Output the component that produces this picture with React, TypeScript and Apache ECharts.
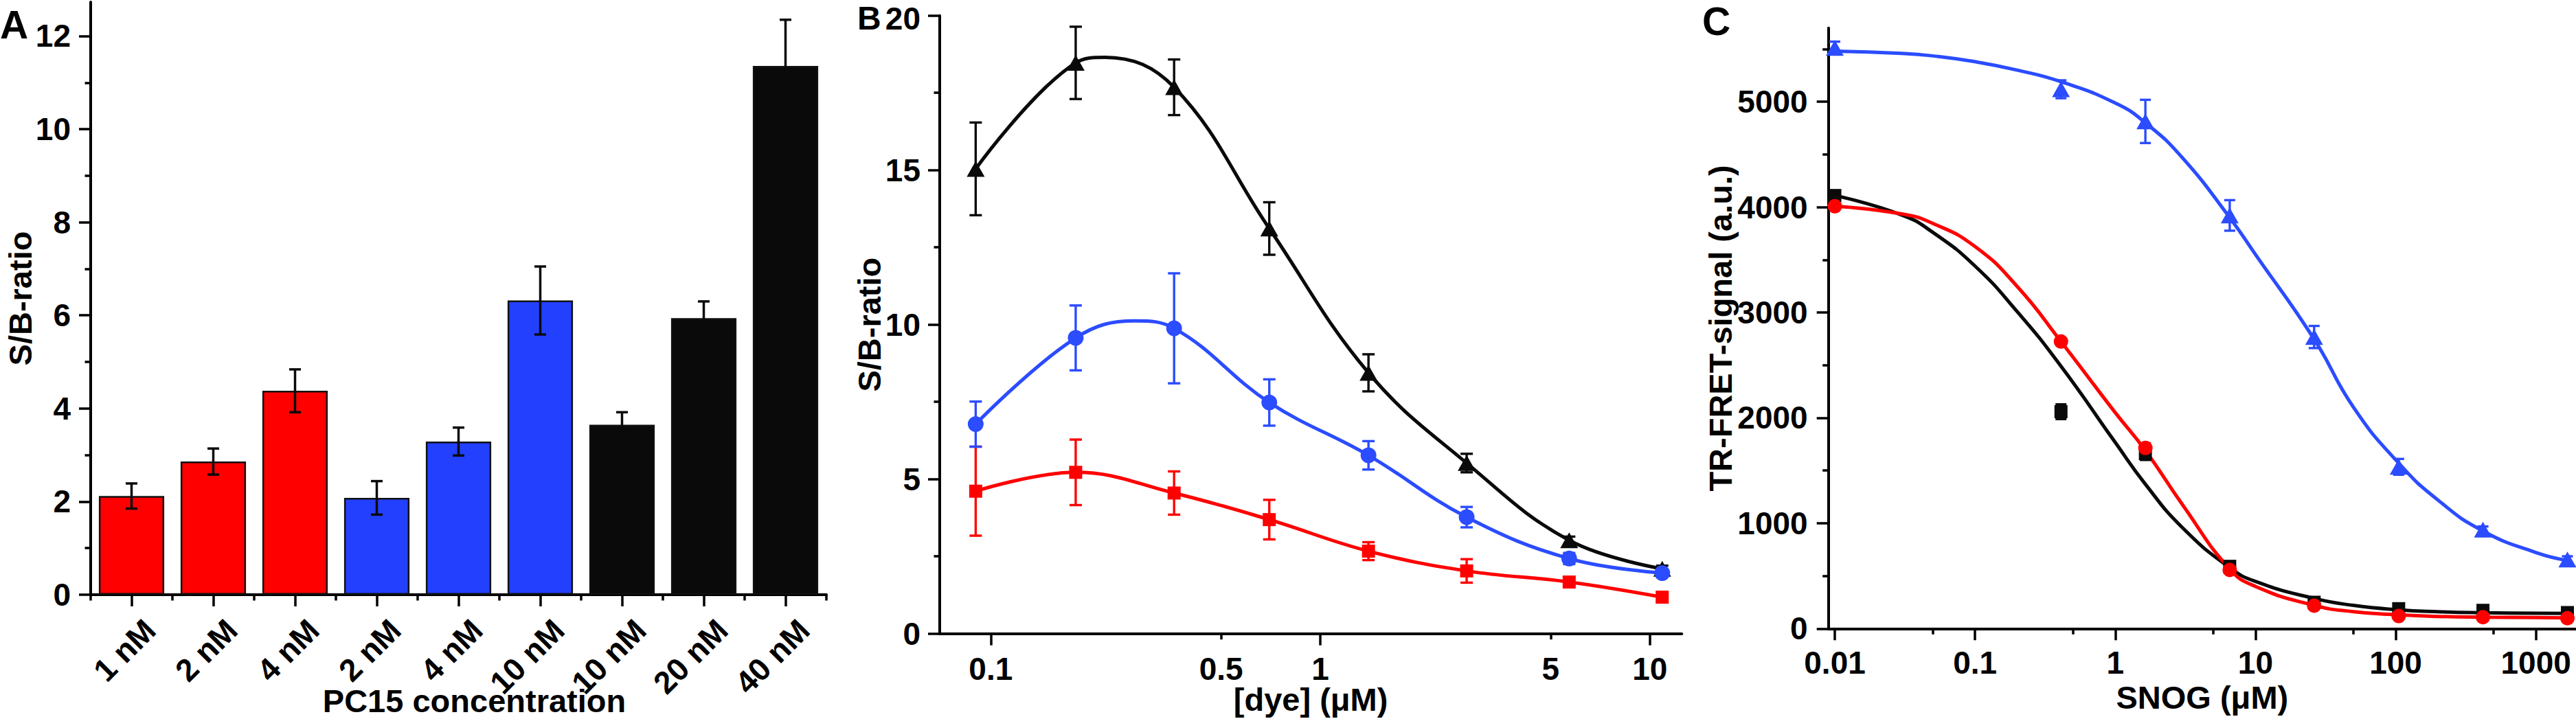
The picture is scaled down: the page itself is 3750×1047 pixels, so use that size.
import React, { useEffect, useRef } from "react";
import * as echarts from "echarts";

const FONT = "'Liberation Sans', Arial, Helvetica, sans-serif";

// ---------------- Panel A ----------------
const aCategories = ["1 nM", "2 nM", "4 nM", "2 nM", "4 nM", "10 nM", "10 nM", "20 nM", "40 nM"];
const aValues = [2.12, 2.86, 4.38, 2.08, 3.29, 6.32, 3.65, 5.94, 11.36];
const aErrors = [0.27, 0.28, 0.46, 0.36, 0.3, 0.73, 0.27, 0.36, 0.99];
const aYMajor = [0, 2, 4, 6, 8, 10, 12];
const aYMinor = [1, 3, 5, 7, 9, 11];

// ---------------- Panel B ----------------
const bDye = [0.09, 0.181, 0.36, 0.7, 1.4, 2.78, 5.69, 10.9];
const bBlack = [15.04, 18.47, 17.68, 13.11, 8.44, 5.52, 3.02, 2.1];
const bBlackErr = [1.5, 1.17, 0.9, 0.85, 0.6, 0.3, 0.12, 0.1];
const bBlue = [6.78, 9.57, 9.88, 7.48, 5.77, 3.77, 2.43, 1.96];
const bBlueErr = [0.73, 1.05, 1.78, 0.75, 0.46, 0.33, 0.18, 0.1];
const bRed = [4.61, 5.22, 4.55, 3.69, 2.67, 2.03, 1.67, 1.18];
const bRedErr = [1.44, 1.06, 0.7, 0.64, 0.29, 0.38, 0.12, 0.15];
// curve maxima (the spline passes above the points there)
const bBlackPeak = [0.222, 18.65];
const bBluePeak = [0.274, 10.12];
const bXLabels = [0.1, 0.5, 1, 5, 10];
const bXMajor = [0.1, 1, 10];
const bXMinor = [0.5, 5];
const bYMajor = [0, 5, 10, 15, 20];
const bYMinor = [2.5, 7.5, 12.5, 17.5];

// ---------------- Panel C ----------------
const cSnog = [0.01, 0.41, 1.64, 6.55, 26.2, 105, 419, 1677];
const cBlue = [5510, 5118, 4813, 3921, 2767, 1535, 939, 656];
const cBlueErr = [60, 85, 205, 145, 105, 75, 30, 30];
const cBlack = [4110, 2058, 1660, 591, 250, 189, 173, 152];
const cBlackErr = [40, 70, 60, 30, 20, 20, 20, 30];
const cRed = [4008, 2724, 1714, 556, 217, 119, 108, 98];
const cRedErr = [40, 30, 45, 30, 20, 15, 15, 20];
// fitted curves
const cFitX = [0.01, 0.03, 0.05, 0.1, 0.2, 0.41, 1, 1.64, 3, 6.55, 10, 26.2, 50, 105, 200, 419, 1000, 1677];
const cBlueFit = [5480, 5458, 5435, 5380, 5300, 5190, 4987, 4800, 4470, 3900, 3550, 2746, 2100, 1570, 1220, 926, 722, 647];
const cBlackFit = [4110, 3925, 3760, 3440, 3007, 2490, 1766, 1370, 960, 578, 447, 286, 220, 178, 160, 150, 145, 143];
const cRedFit = [4008, 3935, 3845, 3625, 3246, 2724, 2049, 1690, 1180, 565, 400, 220, 160, 130, 115, 108, 104, 102];
const cXLabels = [0.01, 0.1, 1, 10, 100, 1000];
const cXMinor = [0.05, 0.5, 5, 50, 500];
const cYMajor = [0, 1000, 2000, 3000, 4000, 5000];
const cYMinor = [500, 1500, 2500, 3500, 4500, 5500];

// ---------------- styles ----------------
const RED = "#fe0000";
const BAR_BLUE = "#2340ff";
const BLUE = "#2b4cff";
const BLACK = "#0a0a0a";
const aBarColors = [RED, RED, RED, BAR_BLUE, BAR_BLUE, BAR_BLUE, BLACK, BLACK, BLACK];

const fmt = (v: any) => String(parseFloat(Number(v).toPrecision(6)));
const textBase = { color: "#000", fontFamily: FONT, fontWeight: "bold" as const };

function errRender(capHalf: number, width: number, color: string) {
  return (params: any, api: any) => {
    const x = api.value(0);
    const y = api.value(1);
    const e = api.value(2);
    const top = api.coord([x, y + e]);
    const bot = api.coord([x, y - e]);
    const style = { stroke: color, lineWidth: width, fill: null };
    return {
      type: "group",
      children: [
        { type: "line", shape: { x1: top[0], y1: top[1], x2: bot[0], y2: bot[1] }, style },
        { type: "line", shape: { x1: top[0] - capHalf, y1: top[1], x2: top[0] + capHalf, y2: top[1] }, style },
        { type: "line", shape: { x1: bot[0] - capHalf, y1: bot[1], x2: bot[0] + capHalf, y2: bot[1] }, style },
      ],
    };
  };
}

const pairs = (xs: number[], ys: number[]) => xs.map((x, i) => [x, ys[i]]);
const triples = (xs: number[], ys: number[], es: number[]) => xs.map((x, i) => [x, ys[i], es[i]]);
const withPeak = (xs: number[], ys: number[], peak: number[] | null) => {
  const p = pairs(xs, ys);
  if (peak) p.push([peak[0], peak[1]]);
  return p.sort((a, b) => a[0] - b[0]);
};

const LINE_W = 4;
const TICK_W = 3.5;
const MAJOR_LEN = 17;
const MINOR_LEN = 8.5;

function yMajor(grid: number, min: number, max: number, ticks: number[], name: string, nameGap: number, margin: number, topValue: number | null) {
  return {
    type: "value",
    gridIndex: grid,
    position: "left",
    min,
    max,
    name,
    nameLocation: "middle",
    nameGap,
    nameRotate: 90,
    nameMoveOverlap: false,
    nameTextStyle: { ...textBase, fontSize: 47, lineHeight: 44 },
    axisLine: { show: true, lineStyle: { color: "#000", width: LINE_W } },
    axisTick: { show: true, inside: false, length: MAJOR_LEN, customValues: ticks, lineStyle: { color: "#000", width: TICK_W } },
    axisLabel: {
      show: true,
      customValues: ticks,
      margin,
      formatter: (v: any) => (topValue !== null && Number(v) === topValue ? `{top|${fmt(v)}}` : fmt(v)),
      ...textBase,
      fontSize: 46,
      lineHeight: 36,
      rich: { top: { ...textBase, fontSize: 46, lineHeight: 36, padding: [8, 0, 0, 0] } },
    },
    splitLine: { show: false },
    minorTick: { show: false },
  };
}
function yMinor(grid: number, min: number, max: number, ticks: number[]) {
  return {
    type: "value",
    gridIndex: grid,
    position: "left",
    min,
    max,
    axisLine: { show: false },
    axisTick: { show: true, inside: false, length: MINOR_LEN, customValues: ticks, lineStyle: { color: "#000", width: TICK_W } },
    axisLabel: { show: false },
    splitLine: { show: false },
  };
}
function xLogMajor(grid: number, min: number, max: number, ticks: number[], labels: number[], name: string, nameGap: number, margin: number) {
  return {
    type: "log",
    logBase: 10,
    gridIndex: grid,
    position: "bottom",
    min,
    max,
    name,
    nameLocation: "middle",
    nameGap,
    nameMoveOverlap: false,
    nameTextStyle: { ...textBase, fontSize: 47, lineHeight: 40 },
    axisLine: { show: true, onZero: false, lineStyle: { color: "#000", width: LINE_W } },
    axisTick: { show: true, inside: false, length: MAJOR_LEN, customValues: ticks, lineStyle: { color: "#000", width: TICK_W } },
    axisLabel: { show: true, customValues: labels, margin, formatter: fmt, ...textBase, fontSize: 46, lineHeight: 40 },
    splitLine: { show: false },
    minorTick: { show: false },
  };
}
function xLogMinor(grid: number, min: number, max: number, ticks: number[]) {
  return {
    type: "log",
    logBase: 10,
    gridIndex: grid,
    position: "bottom",
    min,
    max,
    axisLine: { show: false, onZero: false },
    axisTick: { show: true, inside: false, length: MINOR_LEN, customValues: ticks, lineStyle: { color: "#000", width: TICK_W } },
    axisLabel: { show: false },
    splitLine: { show: false },
  };
}

function markerSeries(xi: number, yi: number, data: number[][], symbol: string, size: any, color: string, z: number) {
  return {
    type: "scatter",
    xAxisIndex: xi,
    yAxisIndex: yi,
    data,
    symbol,
    symbolSize: size,
    itemStyle: { color, opacity: 1 },
    z,
    silent: true,
  };
}
function curveSeries(xi: number, yi: number, data: number[][], color: string, z: number, smooth: number) {
  return {
    type: "line",
    xAxisIndex: xi,
    yAxisIndex: yi,
    data,
    smooth,
    symbol: "none",
    lineStyle: { color, width: 5 },
    z,
    silent: true,
  };
}
function errSeries(xi: number, yi: number, data: number[][], cap: number, width: number, color: string, z: number) {
  return {
    type: "custom",
    xAxisIndex: xi,
    yAxisIndex: yi,
    data,
    renderItem: errRender(cap, width, color),
    z,
    silent: true,
  };
}

function buildOption() {
  const gridA = { left: 132, top: 3, width: 1071, height: 863, outerBoundsMode: "none" };
  const gridB = { left: 1368, top: 22.7, width: 1080.3, height: 900, outerBoundsMode: "none" };
  const gridC = { left: 2661.7, top: 40.7, width: 1088.3, height: 874.6, outerBoundsMode: "none" };

  const xAxis: any[] = [
    {
      type: "category",
      gridIndex: 0,
      position: "bottom",
      data: aCategories,
      boundaryGap: true,
      name: "PC15 concentration",
      nameLocation: "middle",
      nameGap: 137,
      nameMoveOverlap: false,
      nameTextStyle: { ...textBase, fontSize: 47, lineHeight: 34, padding: [0, 0, 0, 46] },
      axisLine: { show: true, onZero: false, lineStyle: { color: "#000", width: LINE_W } },
      axisTick: { show: true, alignWithLabel: true, inside: false, length: MAJOR_LEN, lineStyle: { color: "#000", width: TICK_W } },
      axisLabel: {
        show: true,
        interval: 0,
        rotate: 45,
        margin: 17,
        align: "right",
        verticalAlign: "top",
        padding: [15, 0, 0, 0],
        ...textBase,
        fontSize: 46,
      },
      splitLine: { show: false },
    },
    {
      type: "category",
      gridIndex: 0,
      position: "bottom",
      data: aCategories,
      boundaryGap: true,
      axisLine: { show: false, onZero: false },
      axisTick: { show: true, alignWithLabel: false, interval: 0, inside: false, length: MINOR_LEN, lineStyle: { color: "#000", width: TICK_W } },
      axisLabel: { show: false },
      splitLine: { show: false },
    },
    xLogMajor(1, 0.07, 12.5, bXMajor, bXLabels, "[dye] (μM)", 76, 31),
    xLogMinor(1, 0.07, 12.5, bXMinor),
    xLogMajor(2, 0.009, 1931, cXLabels, cXLabels, "SNOG (μM)", 80, 30),
    xLogMinor(2, 0.009, 1931, cXMinor),
  ];

  const yAxis: any[] = [
    yMajor(0, 0, 12.73, aYMajor, "S/B-ratio", 81, 29, null),
    yMinor(0, 0, 12.73, aYMinor),
    yMajor(1, 0, 20, bYMajor, "S/B-ratio", 81, 28, 20),
    yMinor(1, 0, 20, bYMinor),
    yMajor(2, 0, 5700, cYMajor, "TR-FRET-signal (a.u.)", 135, 30, null),
    yMinor(2, 0, 5700, cYMinor),
  ];

  const series: any[] = [
    // Panel A
    {
      type: "bar",
      xAxisIndex: 0,
      yAxisIndex: 0,
      data: aValues.map((v, i) => ({ value: v, itemStyle: { color: aBarColors[i] } })),
      barWidth: "80%",
      itemStyle: { borderColor: "#111", borderWidth: 2.5 },
      z: 2,
      silent: true,
    },
    errSeries(0, 0, aValues.map((v, i) => [i, v, aErrors[i]]), 8.5, 3.5, BLACK, 3),

    // Panel B
    curveSeries(2, 2, withPeak(bDye, bRed, null), RED, 2, 0.4),
    curveSeries(2, 2, withPeak(bDye, bBlue, bBluePeak), BLUE, 2, 0.4),
    curveSeries(2, 2, withPeak(bDye, bBlack, bBlackPeak), BLACK, 2, 0.4),
    errSeries(2, 2, triples(bDye, bRed, bRedErr), 9, 3.4, RED, 3),
    errSeries(2, 2, triples(bDye, bBlue, bBlueErr), 9, 3.4, BLUE, 3),
    errSeries(2, 2, triples(bDye, bBlack, bBlackErr), 9, 3.4, BLACK, 3),
    markerSeries(2, 2, pairs(bDye, bBlack), "triangle", [26, 23], BLACK, 4),
    markerSeries(2, 2, pairs(bDye, bBlue), "circle", 23, BLUE, 5),
    markerSeries(2, 2, pairs(bDye, bRed), "rect", 19, RED, 5),

    // Panel C
    curveSeries(4, 4, pairs(cFitX, cBlueFit), BLUE, 2, 0.5),
    curveSeries(4, 4, pairs(cFitX, cBlackFit), BLACK, 2, 0.5),
    curveSeries(4, 4, pairs(cFitX, cRedFit), RED, 2, 0.5),
    errSeries(4, 4, triples(cSnog, cBlue, cBlueErr), 8, 3.4, BLUE, 3),
    errSeries(4, 4, triples(cSnog, cBlack, cBlackErr), 8, 3.4, BLACK, 3),
    errSeries(4, 4, triples(cSnog, cRed, cRedErr), 8, 3.4, RED, 3),
    markerSeries(4, 4, pairs(cSnog, cBlue), "triangle", [26, 23], BLUE, 4),
    markerSeries(4, 4, pairs(cSnog, cBlack), "rect", 19, BLACK, 4),
    markerSeries(4, 4, pairs(cSnog, cRed), "circle", 21, RED, 5),
  ];

  const letter = (t: string, x: number, y: number, size: number) => ({
    type: "text",
    x,
    y,
    silent: true,
    style: {
      text: t,
      fill: "#000",
      fontFamily: FONT,
      fontWeight: "bold",
      fontSize: size,
      lineHeight: Math.round(size * 0.75),
      verticalAlign: "middle",
      textVerticalAlign: "middle",
      align: "left",
    },
    z: 10,
  });

  return {
    animation: false,
    backgroundColor: "#ffffff",
    textStyle: { fontFamily: FONT },
    grid: [gridA, gridB, gridC],
    xAxis,
    yAxis,
    series,
    graphic: [letter("A", 0, 36, 57), letter("B", 1248, 26, 48), letter("C", 2478, 31, 57)],
  };
}

export default function App() {
  const ref = useRef<HTMLDivElement>(null);
  useEffect(() => {
    document.body.style.margin = "0";
    if (!ref.current) return;
    const chart = echarts.init(ref.current, null, { renderer: "svg" });
    chart.setOption(buildOption() as any);
    return () => chart.dispose();
  }, []);
  return <div ref={ref} style={{ width: 3750, height: 1047, background: "#fff" }} />;
}
